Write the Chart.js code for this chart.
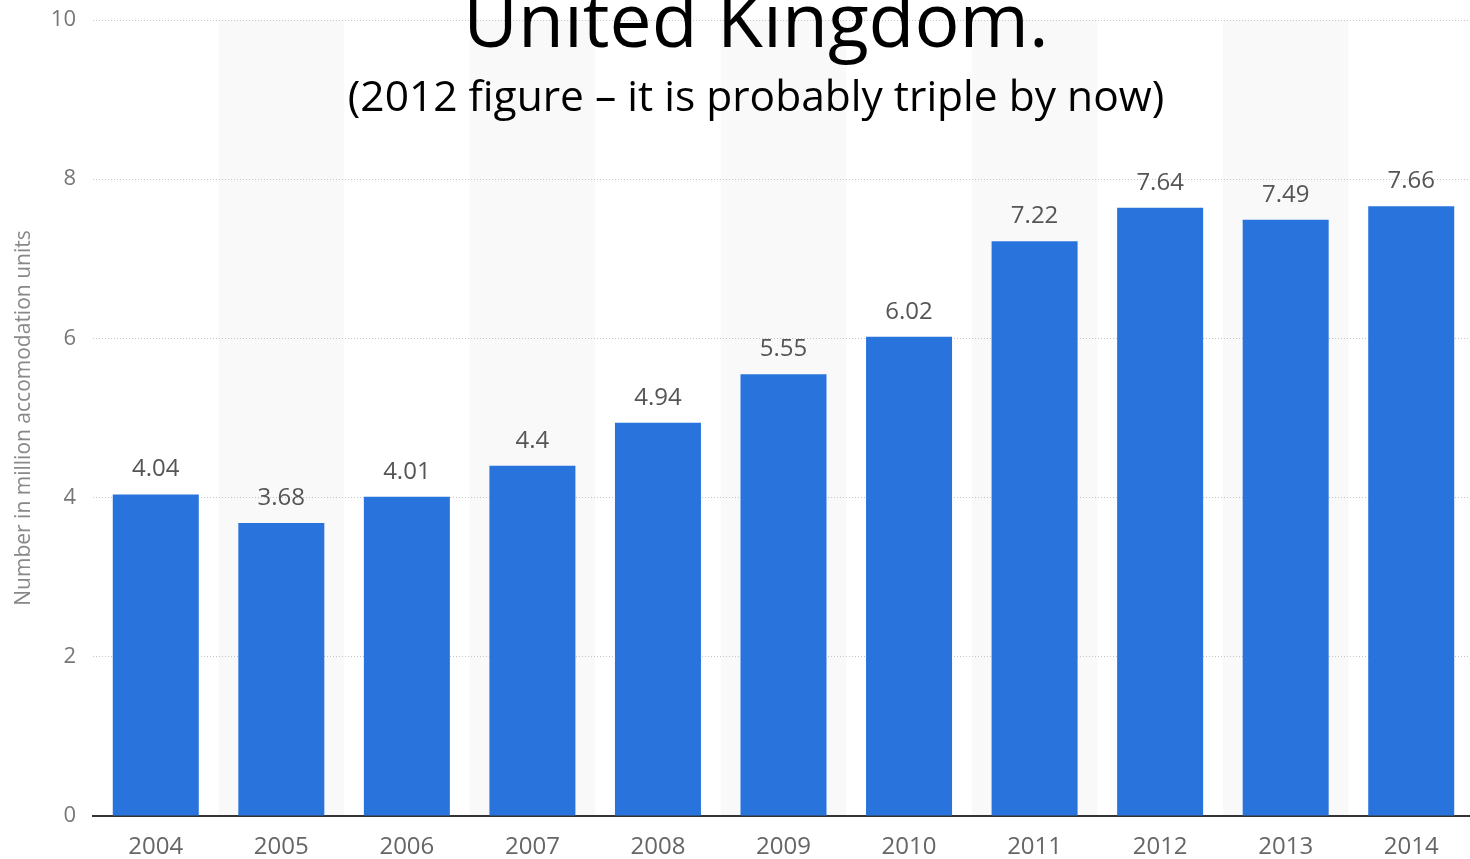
<!DOCTYPE html>
<html>
<head>
<meta charset="utf-8">
<script src="https://cdn.jsdelivr.net/npm/chart.js@4.4.1/dist/chart.umd.min.js"></script>
<style>
  html, body { margin: 0; padding: 0; background: #fff; overflow: hidden; }
  #wrap { position: relative; width: 1474px; height: 859px; }
  #chart { display: block; }
  .head { position: absolute; left: 0; width: 1512px; text-align: center; color: #000; font-family: "Open Sans", sans-serif; white-space: nowrap; pointer-events: none; line-height: normal; }
  #title { top: -33px; font-size: 75px; }
  #subtitle { top: 66px; font-size: 42.5px; }
</style>
</head>
<body>
<div id="wrap">
  <canvas id="chart" width="1474" height="859"></canvas>
  <div id="title" class="head">United Kingdom.</div>
  <div id="subtitle" class="head">(2012 figure – it is probably triple by now)</div>
</div>
<script>
// data
const years = ['2004', '2005', '2006', '2007', '2008', '2009', '2010', '2011', '2012', '2013', '2014'];
const units = [4.04, 3.68, 4.01, 4.4, 4.94, 5.55, 6.02, 7.22, 7.64, 7.49, 7.66];
const yTicks = [0, 2, 4, 6, 8, 10];
const yLabel = 'Number in million accomodation units';

const BAR = '#2874dc';
const FONT = '"Open Sans", sans-serif';

// light bands behind every other year
const bands = {
  id: 'bands',
  beforeDraw(c){
    const x = c.scales.x, a = c.chartArea, ctx = c.ctx;
    const w = (a.right - a.left) / years.length;
    ctx.save();
    ctx.fillStyle = '#f9f9f9';
    years.forEach((y, i) => {
      if (i % 2 === 1) ctx.fillRect(x.getPixelForValue(i) - w / 2, a.top, w, a.bottom - a.top);
    });
    ctx.restore();
  }
};

// value labels above bars
const valueLabels = {
  id: 'valueLabels',
  afterDatasetsDraw(c){
    const ctx = c.ctx;
    ctx.save();
    ctx.font = '24px ' + FONT;
    ctx.fillStyle = '#555';
    ctx.textAlign = 'center';
    ctx.textBaseline = 'bottom';
    c.getDatasetMeta(0).data.forEach((bar, i) => {
      ctx.fillText(String(units[i]), bar.x, bar.y - 13);
    });
    ctx.restore();
  }
};

new Chart(document.getElementById('chart'), {
  type: 'bar',
  data: {
    labels: years,
    datasets: [{ data: units, backgroundColor: BAR, barPercentage: 0.685, categoryPercentage: 1 }]
  },
  options: {
    responsive: false,
    animation: false,
    devicePixelRatio: 1,
    layout: { padding: { top: 20, right: 0, left: 0, bottom: 0 } },
    plugins: { legend: { display: false }, tooltip: { enabled: false } },
    scales: {
      x: {
        grid: { display: false },
        border: { display: true, color: '#333', width: 2 },
        ticks: { color: '#666', font: { family: FONT, size: 24 }, padding: 9 },
        afterFit(s){ s.height = 43; }
      },
      y: {
        min: 0, max: 10,
        afterBuildTicks(s){ s.ticks = yTicks.map(v => ({ value: v })); },
        grid: { color: '#c4c4c4', lineWidth: 1, drawTicks: false },
        border: { display: false, dash: [1, 2] },
        ticks: { color: '#777', font: { family: FONT, size: 22 }, padding: 17 },
        title: { display: true, text: yLabel, color: '#888', font: { family: FONT, size: 21 }, padding: { top: 11, bottom: 0 } },
        // fixed axis width; let layout.padding alone set the top edge
        afterFit(s){ s.width = 93; s.paddingTop = 0; }
      }
    }
  },
  plugins: [bands, valueLabels]
});
</script>
</body>
</html>
